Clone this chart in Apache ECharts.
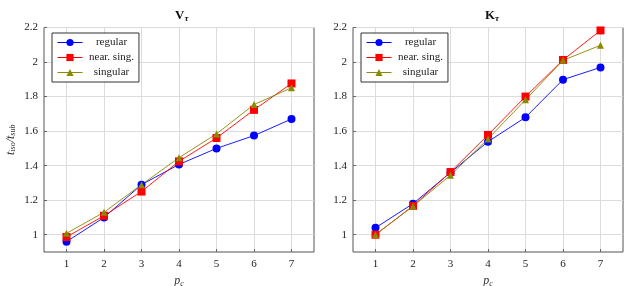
<!DOCTYPE html>
<html><head><meta charset="utf-8">
<script src="https://cdn.jsdelivr.net/npm/echarts@6/dist/echarts.min.js"></script>
<style>html,body{margin:0;padding:0;background:#fff}#c{width:624px;height:286px}</style>
</head><body><div id="c"></div>
<script>
const categories = [1, 2, 3, 4, 5, 6, 7];
const xTicks = [1, 2, 3, 4, 5, 6, 7];
const yTicks = [1, 1.2, 1.4, 1.6, 1.8, 2, 2.2];
const seriesNames = ['regular', 'near. sing.', 'singular'];
// V_tau panel
const vRegular = [0.96, 1.10, 1.29, 1.407, 1.50, 1.574, 1.67];
const vNearSing = [0.987, 1.11, 1.25, 1.425, 1.56, 1.723, 1.876];
const vSingular = [1.008, 1.13, 1.29, 1.446, 1.584, 1.754, 1.851];
// K_tau panel
const kRegular = [1.04, 1.18, 1.36, 1.539, 1.68, 1.898, 1.969];
const kNearSing = [1.0, 1.167, 1.363, 1.578, 1.80, 2.012, 2.183];
const kSingular = [1.0, 1.165, 1.345, 1.555, 1.781, 2.01, 2.097];

const FONT = 'Liberation Serif';
const colors = ['#0000ff', '#ff0000', '#8a8a00'];
const symbols = ['circle', 'rect', 'triangle'];
const symSizes = [8, 8, 7];

const chart = echarts.init(document.getElementById('c'), null, {renderer: 'canvas'});

function xAx(gi) {
  return {
    type: 'value', gridIndex: gi, min: 0.4, max: 7.6,
    name: '{i|p}{s|c}', nameLocation: 'middle', nameGap: 19,
    nameTextStyle: {rich: {i: {fontFamily: FONT, fontStyle: 'italic', fontSize: 12, color: '#333'}, s: {fontFamily: FONT, fontStyle: 'italic', fontSize: 8, color: '#333', padding: [5, 0, 0, 0]}}},
    axisLine: {show: false},
    axisTick: {show: true, inside: true, length: 3, lineStyle: {color: '#666'}, customValues: xTicks},
    axisLabel: {fontFamily: FONT, fontSize: 11, color: '#222', margin: 7, customValues: xTicks},
    splitLine: {show: true, lineStyle: {color: '#dcdcdc', width: 1}}
  };
}
function yAx(gi, withName) {
  const o = {
    type: 'value', gridIndex: gi, min: 0.9, max: 2.2,
    axisLine: {show: false},
    axisTick: {show: true, inside: true, length: 3, lineStyle: {color: '#666'}, customValues: yTicks},
    axisLabel: {fontFamily: FONT, fontSize: 11, color: '#222', margin: 6, customValues: yTicks},
    splitLine: {show: true, lineStyle: {color: '#dcdcdc', width: 1}}
  };
  if (withName) {
    o.name = '{i|t}{s|iso}{i|/t}{s|sub}';
    o.nameLocation = 'middle';
    o.nameGap = 27;
    o.nameTextStyle = {rich: {i: {fontFamily: FONT, fontStyle: 'italic', fontSize: 12, color: '#333'}, s: {fontFamily: FONT, fontStyle: 'italic', fontSize: 8, color: '#333', padding: [5, 0, 0, 0]}}};
  }
  return o;
}
function mk(name, idx, data, gi) {
  return {
    name: name, type: 'line', xAxisIndex: gi, yAxisIndex: gi,
    data: categories.map((c, i) => [c, data[i]]),
    symbol: symbols[idx], symbolSize: symSizes[idx], showSymbol: true,
    itemStyle: {color: colors[idx]},
    lineStyle: {color: colors[idx], width: 0.9},
    animation: false
  };
}
function legend(left) {
  return {
    left: left, top: 33, orient: 'vertical',
    data: seriesNames.map(n => ({name: n, itemStyle: {}, lineStyle: {width: 1}})),
    backgroundColor: '#fff', borderColor: '#333', borderWidth: 1, borderRadius: 0,
    padding: [4, 5, 4, 5], itemGap: 4, itemWidth: 25, itemHeight: 9,
    formatter: n => '{c|' + n + '}',
    textStyle: {fontFamily: FONT, fontSize: 11, color: '#222', rich: {c: {width: 48, align: 'center', fontFamily: FONT, fontSize: 11, color: '#222'}}},
    selectedMode: false
  };
}
const titleRich = {b: {fontFamily: FONT, fontWeight: 'bold', fontSize: 13, color: '#111'}, s: {fontFamily: FONT, fontStyle: 'italic', fontSize: 9, color: '#111', padding: [6, 0, 0, 0]}};
chart.setOption({
  animation: false,
  title: [
    {text: '{b|V}{s|τ}', left: 170, top: 3, textStyle: {rich: titleRich}},
    {text: '{b|K}{s|τ}', left: 480, top: 3, textStyle: {rich: titleRich}}
  ],
  legend: [legend(52), legend(361)],
  grid: [
    {left: 44, top: 27.5, width: 270, height: 224.5, show: true, borderColor: '#555', borderWidth: 1, containLabel: false, outerBoundsMode: 'none'},
    {left: 353, top: 27.5, width: 270, height: 224.5, show: true, borderColor: '#555', borderWidth: 1, containLabel: false, outerBoundsMode: 'none'}
  ],
  xAxis: [xAx(0), xAx(1)],
  yAxis: [yAx(0, true), yAx(1, false)],
  series: [
    mk(seriesNames[0], 0, vRegular, 0),
    mk(seriesNames[1], 1, vNearSing, 0),
    mk(seriesNames[2], 2, vSingular, 0),
    mk(seriesNames[0], 0, kRegular, 1),
    mk(seriesNames[1], 1, kNearSing, 1),
    mk(seriesNames[2], 2, kSingular, 1)
  ]
});
</script></body></html>
